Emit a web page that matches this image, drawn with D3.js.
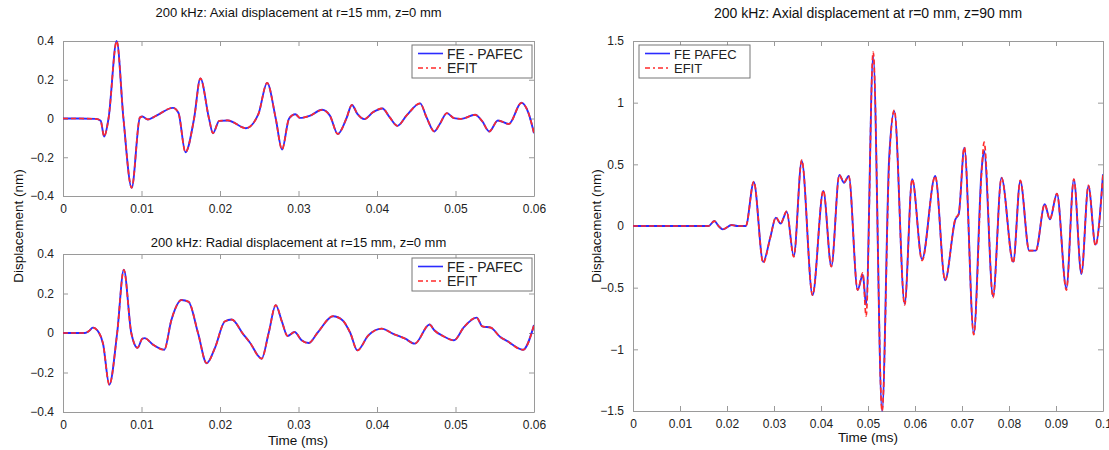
<!DOCTYPE html>
<html>
<head>
<meta charset="utf-8">
<script src="https://cdn.jsdelivr.net/npm/d3@7"></script>
<style>
  body { margin: 0; background: #fff; }
  svg { display: block; font-family: "Liberation Sans", Arial, sans-serif; }
</style>
</head>
<body>
<svg id="chart" width="1109" height="450"></svg>
<script>
// ---- data ----
var axialTopT = [0, 0.002, 0.0042, 0.0048, 0.00524, 0.0058, 0.00684, 0.0077, 0.00875, 0.0098, 0.0101, 0.0108,
  0.0119, 0.014, 0.0147, 0.0156, 0.0167, 0.0175, 0.0186, 0.0191, 0.0199, 0.021, 0.0233, 0.0249, 0.026, 0.0271,
  0.0279, 0.0288, 0.0296, 0.0302, 0.0315, 0.033, 0.034, 0.035, 0.0361, 0.0368, 0.0375, 0.0384, 0.0395, 0.0407,
  0.0416, 0.0426, 0.0438, 0.0455, 0.0463, 0.0473, 0.048, 0.0489, 0.0498, 0.0507, 0.0525, 0.0534, 0.0543, 0.0554,
  0.0568, 0.0584, 0.0593, 0.06];
var axialTopV = [0, 0, -0.002, -0.012, -0.093, 0, 0.40, 0, -0.358, 0.005, 0.01, -0.005,
  0.015, 0.055, 0.03, -0.174, 0, 0.207, 0, -0.076, -0.012, -0.01, -0.05, 0.024, 0.184, 0,
  -0.16, 0, 0.022, 0.003, 0.015, 0.045, 0.015, -0.08, 0, 0.07, 0.024, -0.003, 0.033, 0.052,
  0.007, -0.038, 0.017, 0.078, 0.007, -0.067, -0.028, 0.028, 0.002, -0.002, 0.019, -0.014, -0.067, -0.01,
  -0.028, 0.081, 0.028, -0.076];

var radialT = [0, 0.0028, 0.0033, 0.0038, 0.0046, 0.0051, 0.0059, 0.0069, 0.00775, 0.0087, 0.0095, 0.0101,
  0.0104, 0.0115, 0.0129, 0.0138, 0.0151, 0.016, 0.0172, 0.0183, 0.0194, 0.0206, 0.0215, 0.0229, 0.0238,
  0.0253, 0.0262, 0.0271, 0.0279, 0.0286, 0.0295, 0.0304, 0.0313, 0.0324, 0.0344, 0.0356, 0.0366, 0.0375,
  0.0389, 0.0406, 0.042, 0.0436, 0.0448, 0.0467, 0.0473, 0.0484, 0.0498, 0.0511, 0.0527, 0.0534, 0.0545,
  0.0557, 0.0566, 0.0586, 0.06];
var radialV = [0, 0, 0.01, 0.027, 0, -0.054, -0.262, 0, 0.32, 0, -0.075, -0.029,
  -0.026, -0.06, -0.085, 0.065, 0.167, 0.158, 0, -0.153, -0.071, 0.058, 0.068, -0.003, -0.048,
  -0.13, 0, 0.141, 0.056, -0.015, 0.005, -0.037, -0.051, 0, 0.085, 0.065, 0, -0.088,
  -0.012, 0.022, -0.003, -0.029, -0.054, 0.043, 0.014, -0.015, -0.037, 0.031, 0.078, 0.034, 0.027,
  -0.02, -0.041, -0.085, 0.04];

var axialFarT = [0, 0.0161, 0.0173, 0.0182, 0.0191, 0.021, 0.0222, 0.024, 0.0257, 0.0277, 0.0292, 0.0304,
  0.0314, 0.0327, 0.0342, 0.0359, 0.0382, 0.0405, 0.0422, 0.0439, 0.0449, 0.0459, 0.0478, 0.0489, 0.0496,
  0.0511, 0.053, 0.0545, 0.0556, 0.0578, 0.0594, 0.0615, 0.0643, 0.0664, 0.0686, 0.0693, 0.0705, 0.0725,
  0.0742, 0.0747, 0.0766, 0.0784, 0.0809, 0.0824, 0.0843, 0.0857, 0.0876, 0.0887, 0.0902, 0.0922, 0.0938,
  0.0954, 0.0969, 0.0984, 0.1];
var axialFarV = [0, 0, 0.04, 0, -0.027, 0.008, 0, 0, 0.357, -0.29, -0.095, 0.068,
  0.02, 0.116, -0.245, 0.527, -0.56, 0.284, -0.327, 0.413, 0.351, 0.405, -0.518, -0.395, -0.64,
  1.38, -1.5, 0.55, 0.93, -0.63, 0.38, -0.27, 0.405, -0.44, 0.054, 0.095, 0.635, -0.87,
  0.47, 0.61, -0.57, 0.392, -0.29, 0.365, -0.2, -0.2, 0.176, 0.054, 0.262, -0.505, 0.378,
  -0.39, 0.324, -0.15, 0.42];
// EFIT differs only slightly from the FE result
var axialFarEfitV = [0, 0, 0.04, 0, -0.027, 0.008, 0, 0, 0.36, -0.3, -0.095, 0.07,
  0.02, 0.12, -0.25, 0.535, -0.56, 0.29, -0.33, 0.413, 0.355, 0.405, -0.52, -0.38, -0.73,
  1.41, -1.5, 0.5, 0.94, -0.64, 0.38, -0.28, 0.405, -0.44, 0.06, 0.1, 0.64, -0.88,
  0.45, 0.68, -0.58, 0.39, -0.3, 0.37, -0.2, -0.2, 0.176, 0.054, 0.262, -0.52, 0.38,
  -0.38, 0.33, -0.16, 0.42];

var xTicksShort = [0, 0.01, 0.02, 0.03, 0.04, 0.05, 0.06];
var xTicksLong = [0, 0.01, 0.02, 0.03, 0.04, 0.05, 0.06, 0.07, 0.08, 0.09, 0.1];
var yTicksSmall = [-0.4, -0.2, 0, 0.2, 0.4];
var yTicksLarge = [-1.5, -1, -0.5, 0, 0.5, 1, 1.5];

var svg = d3.select('#chart');
var fmt = d3.format('~g');

function zip(t, v) {
  return t.map(function (d, i) { return [d, v[i]]; });
}

function drawPanel(cfg) {
  var x = d3.scaleLinear().domain(cfg.xDomain).range([cfg.left, cfg.right]);
  var y = d3.scaleLinear().domain(cfg.yDomain).range([cfg.bottom, cfg.top]);
  var tl = 5;

  var g = svg.append('g');

  g.append('clipPath').attr('id', cfg.id + '-clip')
    .append('rect')
    .attr('x', cfg.left).attr('y', cfg.top - 1)
    .attr('width', cfg.right - cfg.left).attr('height', cfg.bottom - cfg.top + 2);

  // axes: MATLAB style ticks pointing inward on every side
  g.append('g').attr('transform', 'translate(0,' + cfg.bottom + ')')
    .call(d3.axisBottom(x).tickValues(cfg.xTicks).tickFormat(fmt).tickSizeInner(-tl).tickSizeOuter(0).tickPadding(tl + 3));
  g.append('g').attr('transform', 'translate(0,' + cfg.top + ')')
    .call(d3.axisTop(x).tickValues(cfg.xTicks).tickFormat('').tickSizeInner(-tl).tickSizeOuter(0));
  g.append('g').attr('transform', 'translate(' + cfg.left + ',0)')
    .call(d3.axisLeft(y).tickValues(cfg.yTicks).tickFormat(fmt).tickSizeInner(-tl).tickSizeOuter(0).tickPadding(tl + 4));
  g.append('g').attr('transform', 'translate(' + cfg.right + ',0)')
    .call(d3.axisRight(y).tickValues(cfg.yTicks).tickFormat('').tickSizeInner(-tl).tickSizeOuter(0));

  g.selectAll('.domain').attr('stroke', '#9a9a9a');
  g.selectAll('.tick line').attr('stroke', '#9a9a9a');
  g.selectAll('.tick text').attr('fill', '#222').style('font-size', '12px')
    .style('font-family', '"Liberation Sans", Arial, sans-serif');

  var line = d3.line()
    .x(function (d) { return x(d[0]); })
    .y(function (d) { return y(d[1]); })
    .curve(d3.curveMonotoneX);

  var plot = g.append('g').attr('clip-path', 'url(#' + cfg.id + '-clip)');
  plot.append('path').datum(cfg.fe)
    .attr('d', line).attr('fill', 'none')
    .attr('stroke', '#2b2bff').attr('stroke-width', 1.9);
  plot.append('path').datum(cfg.efit)
    .attr('d', line).attr('fill', 'none')
    .attr('stroke', '#ff2a2a').attr('stroke-width', 1.7)
    .attr('stroke-dasharray', '5,3');

  g.append('text')
    .attr('x', (cfg.left + cfg.right) / 2).attr('y', cfg.titleY)
    .attr('text-anchor', 'middle').attr('fill', '#111')
    .style('font-size', cfg.titleSize)
    .text(cfg.title);

  // legend
  var lg = cfg.legend;
  var leg = g.append('g');
  leg.append('rect').attr('x', lg.x).attr('y', lg.y).attr('width', lg.w).attr('height', 33)
    .attr('fill', '#fff').attr('stroke', '#777').attr('stroke-width', 1);
  leg.append('line').attr('x1', lg.x + 6).attr('x2', lg.x + 31).attr('y1', lg.y + 8.5).attr('y2', lg.y + 8.5)
    .attr('stroke', '#2b2bff').attr('stroke-width', 1.6);
  leg.append('line').attr('x1', lg.x + 6).attr('x2', lg.x + 31).attr('y1', lg.y + 23).attr('y2', lg.y + 23)
    .attr('stroke', '#ff2a2a').attr('stroke-width', 1.6).attr('stroke-dasharray', '5,3,2,3');
  leg.append('text').attr('x', lg.x + 35).attr('y', lg.y + 13.5).attr('fill', '#222')
    .style('font-size', lg.size).text(lg.labels[0]);
  leg.append('text').attr('x', lg.x + 35).attr('y', lg.y + 28).attr('fill', '#222')
    .style('font-size', lg.size).text(lg.labels[1]);
}

drawPanel({
  id: 'p1', left: 63, right: 534, top: 41, bottom: 196,
  xDomain: [0, 0.06], yDomain: [-0.4, 0.4], xTicks: xTicksShort, yTicks: yTicksSmall,
  fe: zip(axialTopT, axialTopV), efit: zip(axialTopT, axialTopV),
  title: '200 kHz: Axial displacement at r=15 mm, z=0 mm', titleY: 17, titleSize: '13px',
  legend: { x: 412, y: 45, w: 120, size: '14px', labels: ['FE - PAFEC', 'EFIT'] }
});

drawPanel({
  id: 'p2', left: 63, right: 534, top: 254, bottom: 412,
  xDomain: [0, 0.06], yDomain: [-0.4, 0.4], xTicks: xTicksShort, yTicks: yTicksSmall,
  fe: zip(radialT, radialV), efit: zip(radialT, radialV),
  title: '200 kHz: Radial displacement at r=15 mm, z=0 mm', titleY: 247, titleSize: '13px',
  legend: { x: 412, y: 258, w: 120, size: '14px', labels: ['FE - PAFEC', 'EFIT'] }
});

drawPanel({
  id: 'p3', left: 633, right: 1103, top: 41, bottom: 411,
  xDomain: [0, 0.1], yDomain: [-1.5, 1.5], xTicks: xTicksLong, yTicks: yTicksLarge,
  fe: zip(axialFarT, axialFarV), efit: zip(axialFarT, axialFarEfitV),
  title: '200 kHz: Axial displacement at r=0 mm, z=90 mm', titleY: 18, titleSize: '14px',
  legend: { x: 639, y: 45, w: 111, size: '13px', labels: ['FE PAFEC', 'EFIT'] }
});

// axis labels
svg.append('text')
  .attr('transform', 'translate(23,226) rotate(-90)')
  .attr('text-anchor', 'middle').attr('fill', '#111').style('font-size', '13.5px')
  .text('Displacement (nm)');
svg.append('text')
  .attr('transform', 'translate(601,226) rotate(-90)')
  .attr('text-anchor', 'middle').attr('fill', '#111').style('font-size', '13.5px')
  .text('Displacement (nm)');
svg.append('text')
  .attr('x', 298).attr('y', 445)
  .attr('text-anchor', 'middle').attr('fill', '#111').style('font-size', '13.5px')
  .text('Time (ms)');
svg.append('text')
  .attr('x', 868).attr('y', 442)
  .attr('text-anchor', 'middle').attr('fill', '#111').style('font-size', '13.5px')
  .text('Time (ms)');
</script>
</body>
</html>
